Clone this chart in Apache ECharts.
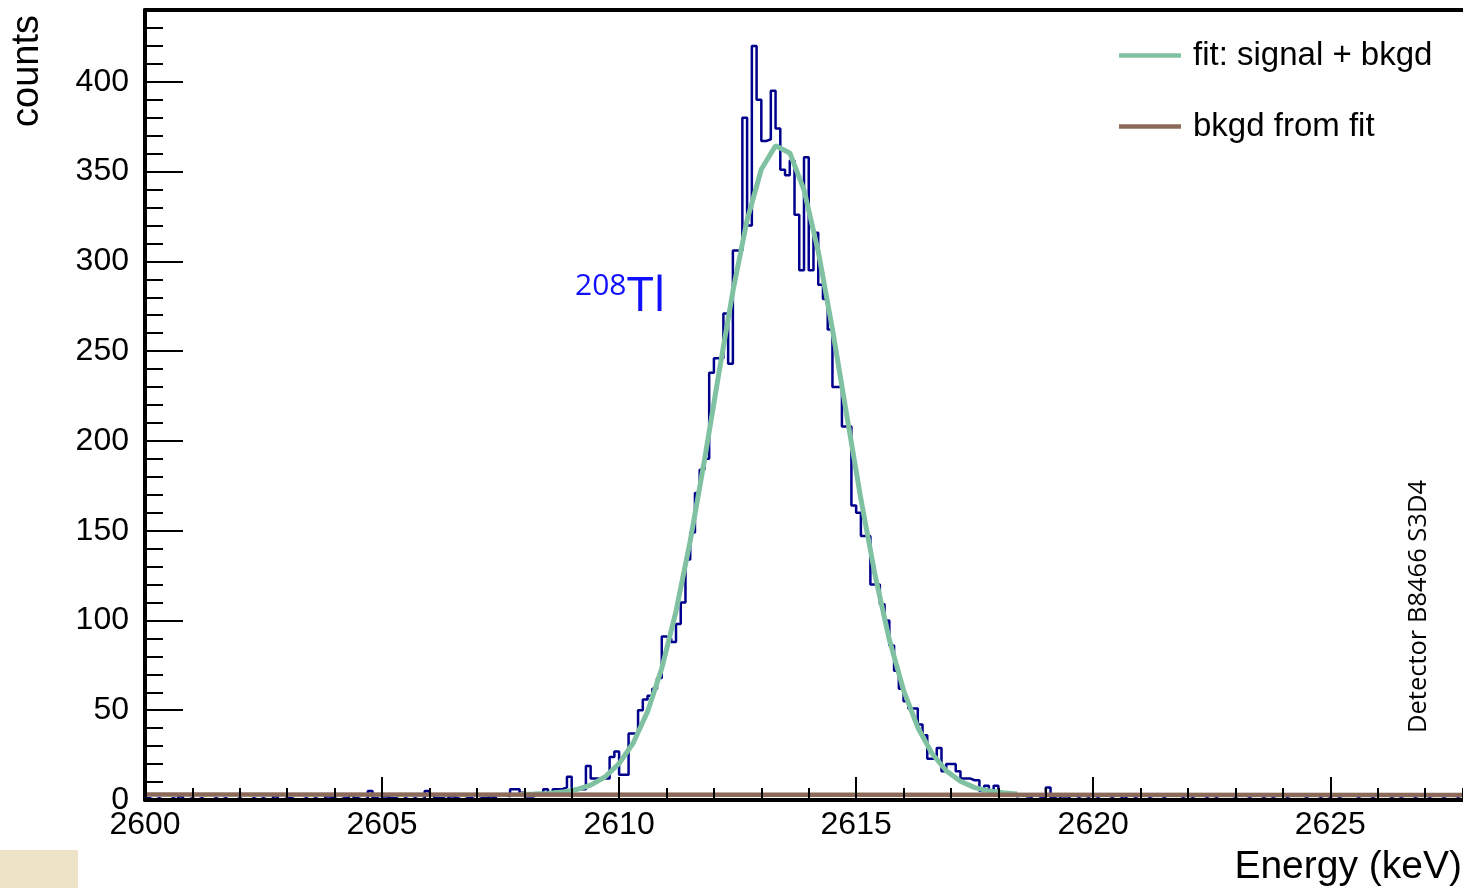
<!DOCTYPE html>
<html>
<head>
<meta charset="utf-8">
<script src="https://cdn.jsdelivr.net/npm/echarts@6/dist/echarts.min.js"></script>
<style>
  html, body {margin:0; padding:0; background:#fff;}
  #main {width:1463px; height:888px;}
</style>
</head>
<body>
<div id="main"></div>
<script>
  // 直方图: 从 2600 keV 开始, 每道 0.1 keV
  const binStart = 2600
  const binWidth = 0.1
  const counts = [
    1,0,1,0,0,1,0,2,0,1,
    0,1,0,0,1,0,1,0,0,1,
    0,0,1,0,1,0,0,2,0,1,
    1,0,0,1,0,1,0,0,2,1,
    0,1,1,3,1,0,1,5,1,0,
    2,1,1,0,1,0,1,0,1,5,
    3,1,1,0,2,1,0,1,1,0,
    1,1,2,1,3,3,2,6,6,4,
    2,2,3,3,6,3,6,6,7,13,
    6,6,6,19,12,12,12,12,24,27,
    14,14,37,37,50,56,58,62,68,91,
    90,88,98,110,134,149,171,184,190,238,
    246,246,271,243,306,306,380,320,420,390,
    367,368,395,374,351,348,356,326,295,358,
    295,316,287,279,262,230,230,208,208,164,
    160,147,147,120,120,109,100,86,72,62,
    55,51,51,42,36,23,23,29,16,20,
    20,16,12,12,11,11,5,8,5,8,
    4,4,3,2,3,2,2,0,1,2,
    7,1,0,2,2,0,1,0,1,0,
    1,0,0,1,0,0,2,0,1,0,
    0,1,0,0,1,0,0,0,1,0,
    1,0,0,1,0,1,0,0,0,1,
    0,0,1,0,0,1,0,1,0,0,
    1,0,0,0,1,0,0,1,0,1,
    0,1,0,0,0,1,0,0,1,0,
    0,0,1,0,1,0,0,1,0,0,
    1,0,0,1,0,0,1,0,1,0
  ]

  // 拟合曲线 signal + bkgd (图上读出的折线点)
  const fitEnergy = [2607.9, 2608.2, 2608.5, 2608.8, 2609.1, 2609.4, 2609.7, 2610.0, 2610.3, 2610.6,
                     2610.9, 2611.2, 2611.5, 2611.8, 2612.1, 2612.4, 2612.7, 2613.0, 2613.3, 2613.6,
                     2613.9, 2614.2, 2614.5, 2614.8, 2615.1, 2615.4, 2615.7, 2616.0, 2616.3, 2616.6,
                     2616.9, 2617.2, 2617.5, 2617.8, 2618.1, 2618.4]
  const fitCounts = [3.1, 3.3, 3.6, 4.4, 5.8, 8.3, 12.8, 20.3, 31.9, 49.2,
                     73.3, 105.1, 144.2, 189.2, 237.0, 283.3, 323.0, 351.3, 364.4, 360.4,
                     339.8, 305.6, 262.2, 214.6, 167.6, 125.1, 89.3, 61.1, 40.4, 25.9,
                     16.3, 10.4, 6.9, 5.0, 4.0, 3.4]

  // 本底
  const bkgdEnergy = [2600, 2628]
  const bkgdCounts = [3.0, 2.8]

  const xMin = 2600, xMax = 2627.8
  const yMin = 0, yMax = 440

  const font = 'Liberation Sans'
  const histColor = '#00008c'
  const fitColor = '#7fc1a1'
  const bkgdColor = '#8b6a5a'

  let histData = counts.map((c, i) => [binStart + i * binWidth, c])
  histData.push([binStart + counts.length * binWidth, counts[counts.length - 1]])
  let fitData = fitEnergy.map((e, i) => [e, fitCounts[i]])
  let bkgdData = bkgdEnergy.map((e, i) => [e, bkgdCounts[i]])

  let myChart = echarts.init(document.getElementById('main'), null, {renderer: 'canvas'})

  const tickStyle = {color: '#000', width: 2}

  let option = {
    animation: false,
    backgroundColor: '#fff',
    grid: {left: 145, right: 0, top: 10, bottom: 88, outerBoundsMode: 'none'},
    xAxis: [
      { // 主刻度 + 标签
        type: 'value', position: 'bottom', min: xMin, max: xMax, interval: 5, z: 10,
        axisLine: {onZero: false, lineStyle: {color: '#000', width: 4}},
        axisTick: {inside: true, length: 23, lineStyle: tickStyle},
        axisLabel: {fontSize: 32, color: '#000', fontFamily: font, margin: 9, showMaxLabel: false,
                    formatter: (v) => String(v)},
        splitLine: {show: false}
      },
      { // 小刻度
        type: 'value', position: 'bottom', min: xMin, max: xMax, interval: 1, z: 10,
        axisLine: {show: false},
        axisTick: {inside: true, length: 12, lineStyle: tickStyle},
        axisLabel: {show: false},
        splitLine: {show: false}
      },
      { // 上边框
        type: 'value', position: 'top', min: xMin, max: xMax, z: 10,
        axisLine: {onZero: false, lineStyle: {color: '#000', width: 4}},
        axisTick: {show: false}, axisLabel: {show: false}, splitLine: {show: false}
      }
    ],
    yAxis: [
      {
        type: 'value', position: 'left', min: yMin, max: yMax, interval: 50, z: 10,
        axisLine: {onZero: false, lineStyle: {color: '#000', width: 4}},
        axisTick: {inside: true, length: 38, lineStyle: tickStyle},
        axisLabel: {fontSize: 32, color: '#000', fontFamily: font, margin: 16, showMaxLabel: false},
        splitLine: {show: false}
      },
      {
        type: 'value', position: 'left', min: yMin, max: yMax, interval: 10, z: 10,
        axisLine: {show: false},
        axisTick: {inside: true, length: 18, lineStyle: tickStyle},
        axisLabel: {show: false},
        splitLine: {show: false}
      }
    ],
    legend: [
      {
        data: ['fit: signal + bkgd'], left: 1119, top: 39, padding: 0,
        icon: 'rect', itemWidth: 62, itemHeight: 4.5, selectedMode: false,
        textStyle: {fontSize: 33, color: '#000', fontFamily: font, padding: [0, 0, 0, 7]}
      },
      {
        data: ['bkgd from fit'], left: 1119, top: 110, padding: 0,
        icon: 'rect', itemWidth: 62, itemHeight: 4.5, selectedMode: false,
        textStyle: {fontSize: 33, color: '#000', fontFamily: font, padding: [0, 0, 0, 7]}
      }
    ],
    series: [
      {
        name: 'hist', type: 'line', step: 'end', data: histData, symbol: 'none', z: 2,
        lineStyle: {color: histColor, width: 2.5}, itemStyle: {color: histColor}
      },
      {
        name: 'fit: signal + bkgd', type: 'line', data: fitData, symbol: 'none', z: 3,
        lineStyle: {color: fitColor, width: 5}, itemStyle: {color: fitColor}
      },
      {
        name: 'bkgd from fit', type: 'line', data: bkgdData, symbol: 'none', z: 4,
        lineStyle: {color: bkgdColor, width: 4.5}, itemStyle: {color: bkgdColor}
      }
    ],
    graphic: {
      elements: [
        {
          type: 'text', x: 28, y: 15, rotation: Math.PI / 2,
          style: {text: 'counts', fill: '#000', font: '38px "Liberation Sans"', align: 'right', verticalAlign: 'middle'}
        },
        {
          type: 'text', x: 1462, y: 867,
          style: {text: 'Energy (keV)', fill: '#000', font: '39px "Liberation Sans"', align: 'right', verticalAlign: 'middle'}
        },
        {
          type: 'text', x: 575, y: 286,
          style: {text: '208', fill: '#1010ff', font: '30px "Open Sans"', align: 'left', verticalAlign: 'middle'}
        },
        {
          type: 'text', x: 627, y: 297,
          style: {text: 'Tl', fill: '#1010ff', font: '48px "Open Sans"', align: 'left', verticalAlign: 'middle'}
        },
        {
          type: 'text', x: 1419, y: 733, rotation: Math.PI / 2,
          style: {text: 'Detector B8466 S3D4', fill: '#000', font: '25.5px "Open Sans"', align: 'left', verticalAlign: 'middle'}
        },
        {
          // 左下角的小照片
          type: 'rect', shape: {x: 0, y: 850, width: 78, height: 38},
          style: {fill: '#ede4c8'}
        }
      ]
    }
  }
  myChart.setOption(option)
</script>
</body>
</html>
